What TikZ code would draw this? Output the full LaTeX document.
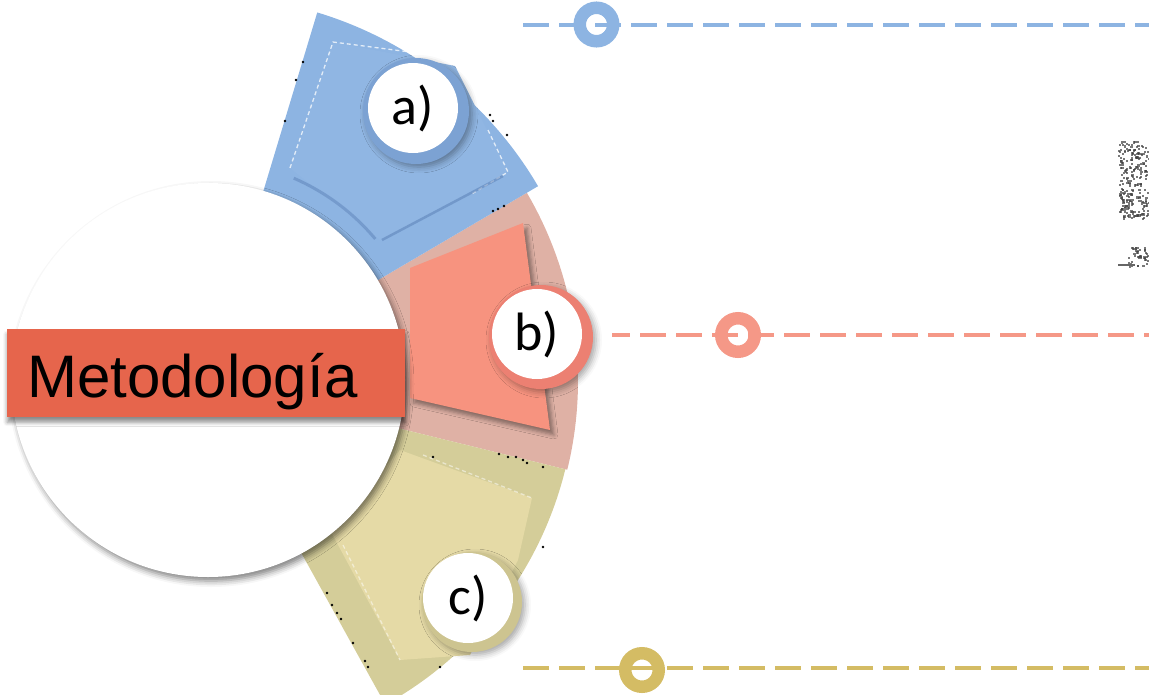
\documentclass[tikz,border=0pt]{standalone}
\usepackage{fontspec}
\setmainfont{Liberation Sans}
\newfontfamily\carlito{Carlito}
\usetikzlibrary{shadows.blur,calc}
\definecolor{bluesec}{RGB}{141,180,226}
\definecolor{bluecard}{RGB}{144,182,227}
\definecolor{bluedark}{RGB}{92,130,184}
\definecolor{pinksec}{RGB}{223,177,165}
\definecolor{salmon}{RGB}{247,147,127}
\definecolor{pinkring}{RGB}{236,128,114}
\definecolor{tansec}{RGB}{212,205,153}
\definecolor{tancard}{RGB}{229,218,166}
\definecolor{tanring}{RGB}{205,196,144}
\definecolor{bannerred}{RGB}{230,101,76}
\definecolor{lineblue}{RGB}{141,180,226}
\definecolor{linepink}{RGB}{245,152,135}
\definecolor{linetan}{RGB}{212,188,100}
\tikzset{
  dashline/.style={line width=4pt, dash pattern=on 26pt off 10pt},
  marker/.style={circle, draw, line width=12.5pt, minimum size=33.5pt, inner sep=0pt},
  badge/.style={circle, fill=white, minimum size=90pt, inner sep=0pt, font=\carlito\fontsize{54}{54}\selectfont},
  badgering/.style={circle, minimum size=#1, inner sep=0pt, blur shadow={shadow xshift=3pt, shadow yshift=-3pt, shadow blur radius=6pt, shadow opacity=35}},
  whitedash/.style={white, line width=1.3pt, dash pattern=on 4pt off 3pt, opacity=.75},
  speck/.style={black},
}
\begin{document}
\begin{tikzpicture}[x=1pt,y=1pt]
\useasboundingbox (0,0) rectangle (1149,-694);
\clip (0,0) rectangle (1149,-694);
\coordinate (O) at (206,-381);
% sectors
\fill[pinksec] ($(O)+(30.4:150pt)$) arc[start angle=30.4,end angle=-13.8,radius=150pt]
  -- ($(O)+(-13.8:372pt)$) arc[start angle=-13.8,end angle=30.4,radius=372pt] -- cycle;
\fill[bluesec] ($(O)+(73.2:150pt)$) arc[start angle=73.2,end angle=30.4,radius=150pt]
  -- ($(O)+(30.4:385pt)$) arc[start angle=30.4,end angle=73.2,radius=385pt] -- cycle;
\fill[tansec] ($(O)+(-13.8:150pt)$) arc[start angle=-13.8,end angle=-61,radius=150pt]
  -- ($(O)+(-61:370pt)$) arc[start angle=-61,end angle=-13.8,radius=370pt] -- cycle;
% blue card
\fill[bluecard] (333,-42) -- (455,-66) -- (508,-172) -- (380,-240) -- (290,-168) -- cycle;
\draw[whitedash] (290,-168) -- (333,-42) -- (410,-52);
\draw[whitedash] (488,-130) -- (508,-172) -- (470,-195);
\draw[bluedark, line width=2.5pt, opacity=.55] (382,-240) -- (503,-176);
\draw[bluedark, line width=3pt, opacity=.5] ($(O)+(66.6:221pt)$) arc[start angle=66.6,end angle=40,radius=221pt];
% pink card
\path[fill=salmon, blur shadow={shadow xshift=4pt, shadow yshift=-5pt, shadow blur radius=4pt, shadow opacity=40}]
  (410,-268) -- (523,-223) -- (550,-430) -- (410,-398) -- cycle;
% tan card
\fill[tancard] (330,-530) -- (400,-450) -- (532,-498) -- (518,-560) -- (470,-655) -- (400,-660) -- cycle;
\draw[whitedash, opacity=.5] (423,-455) -- (532,-498);
\draw[whitedash, opacity=.5] (343,-545) -- (400,-660);
% specks
\foreach \p in {(303,-62),(296,-80),(285,-121),(490,-115),(493,-121),(507,-135),(493,-211),(498,-209),(504,-206),
  (433,-457),(499,-454),(508,-457),(516,-457),(523,-460),(527,-463),(543,-467),
  (327,-593),(332,-605),(337,-613),(341,-619),(353,-643),(365,-661),(368,-667),(440,-667),(543,-547)}
  \fill[speck] \p circle (1.4pt);
% badges
\node[badgering=106pt, fill=bluedark!35!bluesec] (ra) at (416,-111) {};
\node[badge] (ba) at (413,-108) {a)};
\node[badgering=104pt, fill=pinkring] (rb) at (541,-337) {};
\node[badge] (bb) at (537,-334) {b)};
\node[badgering=100pt, fill=tanring] (rc) at (472,-602) {};
\node[badge] (bc) at (468,-598) {c)};
% main circle and banner
\node[circle, fill=white, minimum size=394pt, inner sep=0pt,
  blur shadow={shadow xshift=3pt, shadow yshift=-4pt, shadow blur radius=6pt, shadow opacity=50}] (main) at (208,-380) {};
\node[fill=bannerred, minimum width=398pt, minimum height=88pt, inner sep=0pt, anchor=north west,
  blur shadow={shadow xshift=0pt, shadow yshift=-5pt, shadow blur radius=4pt, shadow opacity=45}] (banner) at (7,-329) {};
\node[anchor=base west, inner sep=0pt, font=\fontsize{60}{60}\selectfont] (title) at (27,-397) {Metodología};
% dashed lines with markers
\coordinate (a1) at (523,-24.5); \coordinate (a2) at (1149,-24.5);
\draw[dashline, lineblue] (a1) -- (a2);
\node[marker, draw=lineblue] (ma) at (596.5,-24.5) {};
\coordinate (b1) at (612,-335); \coordinate (b2) at (1149,-335);
\draw[dashline, linepink, dash phase=8pt] (b1) -- (b2);
\node[marker, draw=linepink] (mb) at (738,-335) {};
\coordinate (c1) at (523,-668); \coordinate (c2) at (1149,-668);
\draw[dashline, linetan] (c1) -- (c2);
\node[marker, draw=linetan] (mc) at (642,-670) {};
% garbled fragments at right edge
\pgfmathsetseed{7}
\foreach \i in {1,...,230}{
  \pgfmathsetmacro{\rx}{1118+30*rnd}
  \pgfmathsetmacro{\ry}{140+78*rnd}
  \fill[black!75, opacity=.7] (\rx,-\ry) rectangle ++(2.2,-2.2);
}
\foreach \i in {1,...,40}{
  \pgfmathsetmacro{\rx}{1128+20*rnd}
  \pgfmathsetmacro{\ry}{246+22*rnd}
  \fill[black!75, opacity=.7] (\rx,-\ry) rectangle ++(2.2,-2.2);
}
\draw[black!60, line width=1.5pt] (1118,-265) -- (1135,-265);
\end{tikzpicture}
\end{document}
